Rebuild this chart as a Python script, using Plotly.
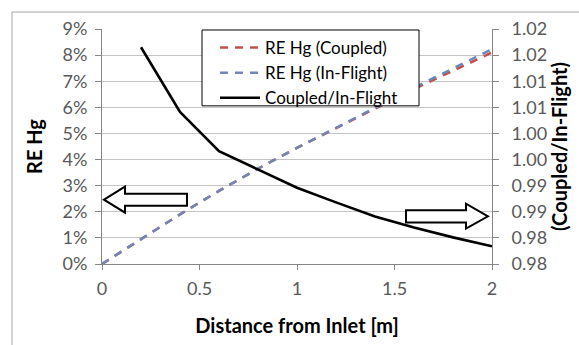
import plotly.graph_objects as go

# ---------------- data ----------------
distance = [0.0, 0.2, 0.4, 0.6, 0.8, 1.0, 1.2, 1.4, 1.6, 1.8, 2.0]
re_hg_coupled = [0.0, 0.0095, 0.019, 0.028, 0.0365, 0.0445, 0.052, 0.0595, 0.067, 0.074, 0.081]
re_hg_inflight = [0.0, 0.0095, 0.019, 0.028, 0.0365, 0.0445, 0.052, 0.0598, 0.0675, 0.075, 0.0823]
ratio_distance = [0.2, 0.4, 0.6, 0.8, 1.0, 1.2, 1.4, 1.6, 1.8, 2.0]
ratio_coupled_inflight = [1.0165, 1.0041, 0.9966, 0.9931, 0.9896, 0.9868, 0.9841, 0.9820, 0.9801, 0.9784]

x_tick_vals = [0, 0.5, 1, 1.5, 2]
x_tick_text = ["0", "0.5", "1", "1.5", "2"]
left_tick_vals = [0.00, 0.01, 0.02, 0.03, 0.04, 0.05, 0.06, 0.07, 0.08, 0.09]
left_tick_text = ["0%", "1%", "2%", "3%", "4%", "5%", "6%", "7%", "8%", "9%"]
right_tick_vals = [0.975, 0.980, 0.985, 0.990, 0.995, 1.000, 1.005, 1.010, 1.015, 1.020]
right_tick_text = ["0.98", "0.98", "0.99", "0.99", "1.00", "1.00", "1.01", "1.01", "1.02", "1.02"]

FONT = "Lato, 'Open Sans', sans-serif"
TICK_COLOR = "#595959"
AXIS_COLOR = "#868686"
GRID_COLOR = "#c4c4c4"
TICK_SIZE = 18
TITLE_SIZE = 20

fig = go.Figure()
fig.add_trace(go.Scatter(
    x=distance, y=re_hg_coupled, mode="lines", name="RE Hg (Coupled)",
    line=dict(color="#c0504d", width=2.5, dash="8px,7px"),
))
fig.add_trace(go.Scatter(
    x=distance, y=re_hg_inflight, mode="lines", name="RE Hg (In-Flight)",
    line=dict(color="#6f86b8", width=2.5, dash="8px,7px"),
))
fig.add_trace(go.Scatter(
    x=ratio_distance, y=ratio_coupled_inflight, mode="lines", name="Coupled/In-Flight",
    line=dict(color="#000000", width=2.6), yaxis="y2",
))

W, H = 579, 345
L, R, T, B = 102, 87, 29, 80.5
pw, ph = W - L - R, H - T - B

def px(xp):
    return (xp - L) / pw

def py(yp):
    return (H - B - yp) / ph

def arrow_path(points):
    return "M " + " L ".join(f"{px(a):.4f},{py(b):.4f}" for a, b in points) + " Z"

left_arrow = [(104, 200), (125, 187), (125, 194), (187, 194), (187, 206), (125, 206), (125, 213)]
right_arrow = [(488, 216.7), (466, 204), (466, 210.7), (406, 210.7), (406, 223), (466, 223), (466, 229)]

shapes = [
    # legend frame
    dict(type="rect", xref="paper", yref="paper", x0=px(202), x1=px(419), y0=py(30), y1=py(106),
         line=dict(color="black", width=1), fillcolor="white", layer="above"),
    dict(type="path", xref="paper", yref="paper", path=arrow_path(left_arrow),
         line=dict(color="black", width=2), fillcolor="white", layer="above"),
    dict(type="path", xref="paper", yref="paper", path=arrow_path(right_arrow),
         line=dict(color="black", width=2), fillcolor="white", layer="above"),
    dict(type="line", xref="paper", yref="paper", x0=px(12), x1=px(12), y0=py(12), y1=py(360),
         line=dict(color="#a6a6a6", width=1)),
    dict(type="line", xref="paper", yref="paper", x0=px(12), x1=px(600), y0=py(12), y1=py(12),
         line=dict(color="#a6a6a6", width=1)),
]

fig.update_layout(
    width=W, height=H,
    margin=dict(l=L, r=R, t=T, b=B, autoexpand=False),
    paper_bgcolor="white", plot_bgcolor="white",
    font=dict(family=FONT, size=TICK_SIZE, color=TICK_COLOR),
    showlegend=True,
    legend=dict(
        x=px(215), y=py(30), xanchor="left", yanchor="top",
        bgcolor="rgba(0,0,0,0)", borderwidth=0,
        font=dict(family=FONT, size=17, color="black"),
        itemwidth=40, tracegroupgap=0,
    ),
    xaxis=dict(
        range=[0, 2], tickvals=x_tick_vals, ticktext=x_tick_text, automargin=False,
        showline=True, linecolor=AXIS_COLOR, linewidth=1,
        ticks="outside", ticklen=5, tickcolor=AXIS_COLOR, ticklabelstandoff=3,
        showgrid=False, zeroline=False,
        tickfont=dict(family=FONT, size=TICK_SIZE, color=TICK_COLOR),
        title=dict(text="<b>Distance from Inlet [m]</b>", standoff=21,
                   font=dict(family=FONT, size=TITLE_SIZE, color="black")),
    ),
    yaxis=dict(
        range=[0, 0.09], tickvals=left_tick_vals, ticktext=left_tick_text, automargin=False,
        showline=True, linecolor=AXIS_COLOR, linewidth=1,
        ticks="outside", ticklen=6, tickcolor=AXIS_COLOR, ticklabelstandoff=4,
        showgrid=True, gridcolor=GRID_COLOR, gridwidth=1, zeroline=False,
        tickfont=dict(family=FONT, size=TICK_SIZE, color=TICK_COLOR),
        title=dict(text="<b>RE Hg</b>", standoff=14,
                   font=dict(family=FONT, size=TITLE_SIZE, color="black")),
    ),
    yaxis2=dict(
        range=[0.975, 1.02], tickvals=right_tick_vals, ticktext=right_tick_text, automargin=False,
        overlaying="y", side="right",
        showline=True, linecolor=AXIS_COLOR, linewidth=1,
        ticks="outside", ticklen=6, tickcolor=AXIS_COLOR, ticklabelstandoff=9,
        showgrid=False, zeroline=False,
        tickfont=dict(family=FONT, size=TICK_SIZE, color=TICK_COLOR),
        title=dict(text="<b>(Coupled/In-Flight)</b>", standoff=3,
                   font=dict(family=FONT, size=TITLE_SIZE, color="black")),
    ),
    shapes=shapes,
)

fig.write_html("out.html", config={"displayModeBar": False},
               post_script="document.body.style.margin='0px';")
